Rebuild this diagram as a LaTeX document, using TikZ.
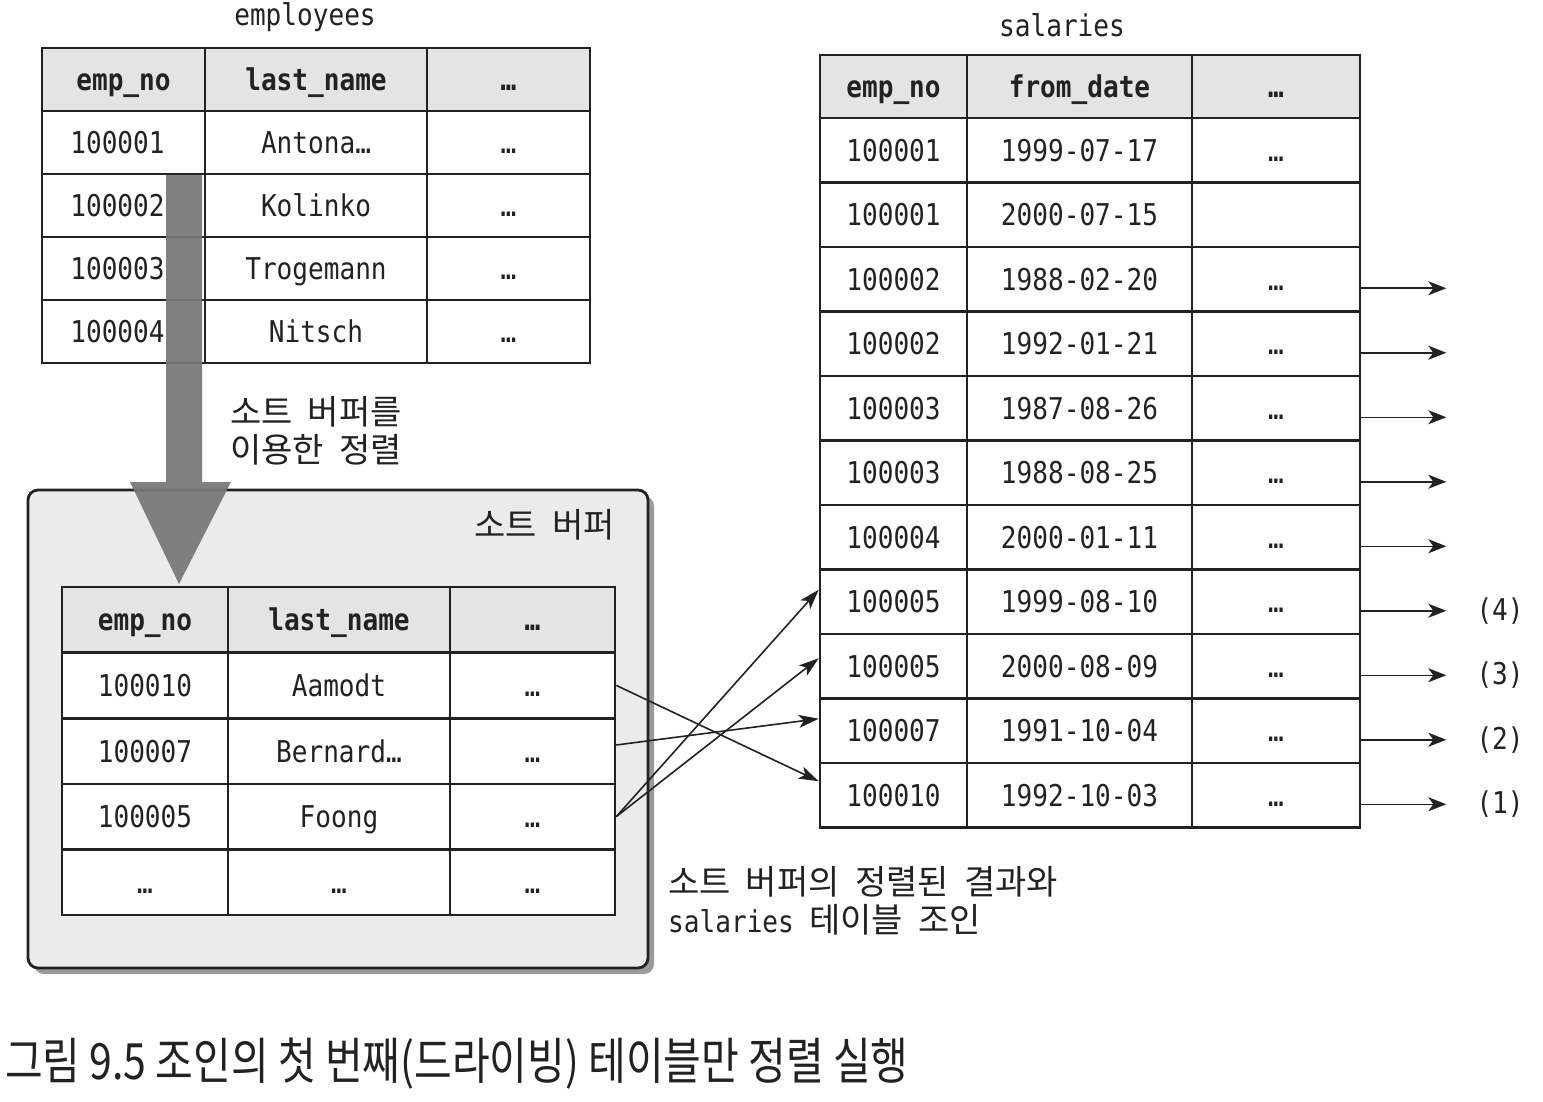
\documentclass[tikz,border=0pt]{standalone}
\usepackage{fontspec}
\usetikzlibrary{arrows.meta,shadows}
\newfontfamily\tabfont[FakeStretch=0.87]{DejaVu Sans Mono}
\newfontfamily\krfont[WordSpace=2]{Noto Sans CJK KR}
\newfontfamily\capfont[FakeStretch=0.82]{Noto Sans CJK KR}
\definecolor{ink}{HTML}{222222}
\definecolor{headfill}{HTML}{E4E4E4}
\definecolor{boxfill}{HTML}{EBEBEB}
\definecolor{shade}{HTML}{9A9A9A}
\definecolor{bigarrow}{HTML}{767676}
\begin{document}
\begin{tikzpicture}[x=1pt,y=-1pt,
  tab/.style={font=\tabfont\fontsize{30}{36}\selectfont, text=ink},
  cell/.style={draw=ink, line width=2.6pt, inner sep=0pt, fill=white, text height=26pt, text depth=4pt, tab},
  head/.style={cell, fill=headfill, font=\tabfont\bfseries\fontsize{30}{36}\selectfont},
  kr/.style={font=\krfont\fontsize{34}{38}\selectfont, text=ink, inner sep=0pt, align=left},
  bufbox/.style={draw=ink, line width=2.8pt, fill=boxfill, rounded corners=10pt, drop shadow={shadow xshift=6pt, shadow yshift=-6pt, fill=shade, opacity=1}},
  link/.style={draw=ink, line width=1.6pt, -{Stealth[length=20pt,width=13pt,inset=5pt]}},
  rarrow/.style={draw=ink, line width=1.5pt, -{Stealth[length=18pt,width=14pt,inset=5pt]}},
]
\useasboundingbox (0,0) rectangle (1543,1102);
\fill[white] (0,0) rectangle (1543,1102);

% ---------- sort buffer box ----------
\node[bufbox, minimum width=620pt, minimum height=478pt] (buf) at (338,729) {};
\node[kr, anchor=east] (buflabel) at (615,525) {소트 버퍼};

% sort buffer table
\node[head, minimum width=166pt, minimum height=65.6pt] (b-0-1) at (145,619.8) {emp\_no};
\node[head, minimum width=222pt, minimum height=65.6pt] (b-0-2) at (339,619.8) {last\_name};
\node[head, minimum width=165pt, minimum height=65.6pt] (b-0-3) at (532.5,619.8) {…};
\foreach \r/\a/\b/\c in {1/100010/Aamodt/…, 2/100007/Bernard…/…, 3/100005/Foong/…, 4/…/…/…}{
  \node[cell, minimum width=166pt, minimum height=65.6pt] (b-\r-1) at (145,{619.8+65.6*\r}) {\a};
  \node[cell, minimum width=222pt, minimum height=65.6pt] (b-\r-2) at (339,{619.8+65.6*\r}) {\b};
  \node[cell, minimum width=165pt, minimum height=65.6pt] (b-\r-3) at (532.5,{619.8+65.6*\r}) {\c};
}

% ---------- employees ----------
\node[tab, inner sep=0pt] (etitle) at (305,17) {employees};
\node[head, minimum width=163pt, minimum height=63pt] (e-0-1) at (123.5,79.5) {emp\_no};
\node[head, minimum width=222pt, minimum height=63pt] (e-0-2) at (316,79.5) {last\_name};
\node[head, minimum width=163pt, minimum height=63pt] (e-0-3) at (508.5,79.5) {…};
\foreach \r/\a/\b/\c in {1/100001/Antona…/…, 2/100002/Kolinko/…, 3/100003/Trogemann/…, 4/100004/Nitsch/…}{
  \node[cell, minimum width=163pt, minimum height=63pt] (e-\r-1) at (123.5,{79.5+63*\r}) {\a\hspace*{12pt}};
  \node[cell, minimum width=222pt, minimum height=63pt] (e-\r-2) at (316,{79.5+63*\r}) {\b};
  \node[cell, minimum width=163pt, minimum height=63pt] (e-\r-3) at (508.5,{79.5+63*\r}) {\c};
}

% big gray arrow (sort)
\fill[bigarrow, opacity=0.92] (166,175) -- (202,175) -- (202,482) -- (231,482) -- (179,584) -- (130,482) -- (166,482) -- cycle;
\node[kr, anchor=west] (sortlabel) at (230,431) {소트 버퍼를\\이용한 정렬};

% ---------- salaries ----------
\node[tab, inner sep=0pt] (stitle) at (1062,25) {salaries};
\node[head, minimum width=147pt, minimum height=63pt] (s-0-1) at (893.5,86.5) {emp\_no};
\node[head, minimum width=225pt, minimum height=63pt] (s-0-2) at (1079.5,86.5) {from\_date};
\node[head, minimum width=168pt, minimum height=63pt] (s-0-3) at (1276,86.5) {…};
\foreach \r/\a/\b/\c in {1/100001/1999-07-17/…, 2/100001/2000-07-15/{}, 3/100002/1988-02-20/…, 4/100002/1992-01-21/…, 5/100003/1987-08-26/…, 6/100003/1988-08-25/…, 7/100004/2000-01-11/…, 8/100005/1999-08-10/…, 9/100005/2000-08-09/…, 10/100007/1991-10-04/…, 11/100010/1992-10-03/…}{
  \node[cell, minimum width=147pt, minimum height=64.5pt] (s-\r-1) at (893.5,{118+64.5*(\r-0.5)}) {\a};
  \node[cell, minimum width=225pt, minimum height=64.5pt] (s-\r-2) at (1079.5,{118+64.5*(\r-0.5)}) {\b};
  \node[cell, minimum width=168pt, minimum height=64.5pt] (s-\r-3) at (1276,{118+64.5*(\r-0.5)}) {\c};
}

% right-hand arrows
\foreach \r in {3,...,11}{
  \coordinate (re-\r) at ([yshift=-9pt,xshift=85pt]s-\r-3.east);
  \draw[rarrow] ([yshift=-9pt]s-\r-3.east) -- (re-\r);
}
\node[tab, anchor=west, inner sep=0pt] (n4) at ([xshift=30pt]re-8) {(4)};
\node[tab, anchor=west, inner sep=0pt] (n3) at ([xshift=30pt]re-9) {(3)};
\node[tab, anchor=west, inner sep=0pt] (n2) at ([xshift=30pt]re-10) {(2)};
\node[tab, anchor=west, inner sep=0pt] (n1) at ([xshift=30pt]re-11) {(1)};

% join arrows
\draw[link] (b-1-3.east) -- ([yshift=14pt]s-11-1.west);
\draw[link] ([yshift=6pt]b-2-3.east) -- ([yshift=12pt]s-10-1.west);
\draw[link] (b-3-3.east) -- ([yshift=12pt]s-8-1.west);
\draw[link] (b-3-3.east) -- ([yshift=8pt]s-9-1.west);

\node[kr, anchor=west] (joinlabel) at (668,901) {소트 버퍼의 정렬된 결과와\\{\tabfont\fontsize{30}{38}\selectfont salaries} 테이블 조인};

% caption
\node[font=\capfont\fontsize{50}{56}\selectfont, text=ink, anchor=west, inner sep=0pt] (caption) at (5,1064) {그림 9.5 조인의 첫 번째(드라이빙) 테이블만 정렬 실행};
\end{tikzpicture}
\end{document}
